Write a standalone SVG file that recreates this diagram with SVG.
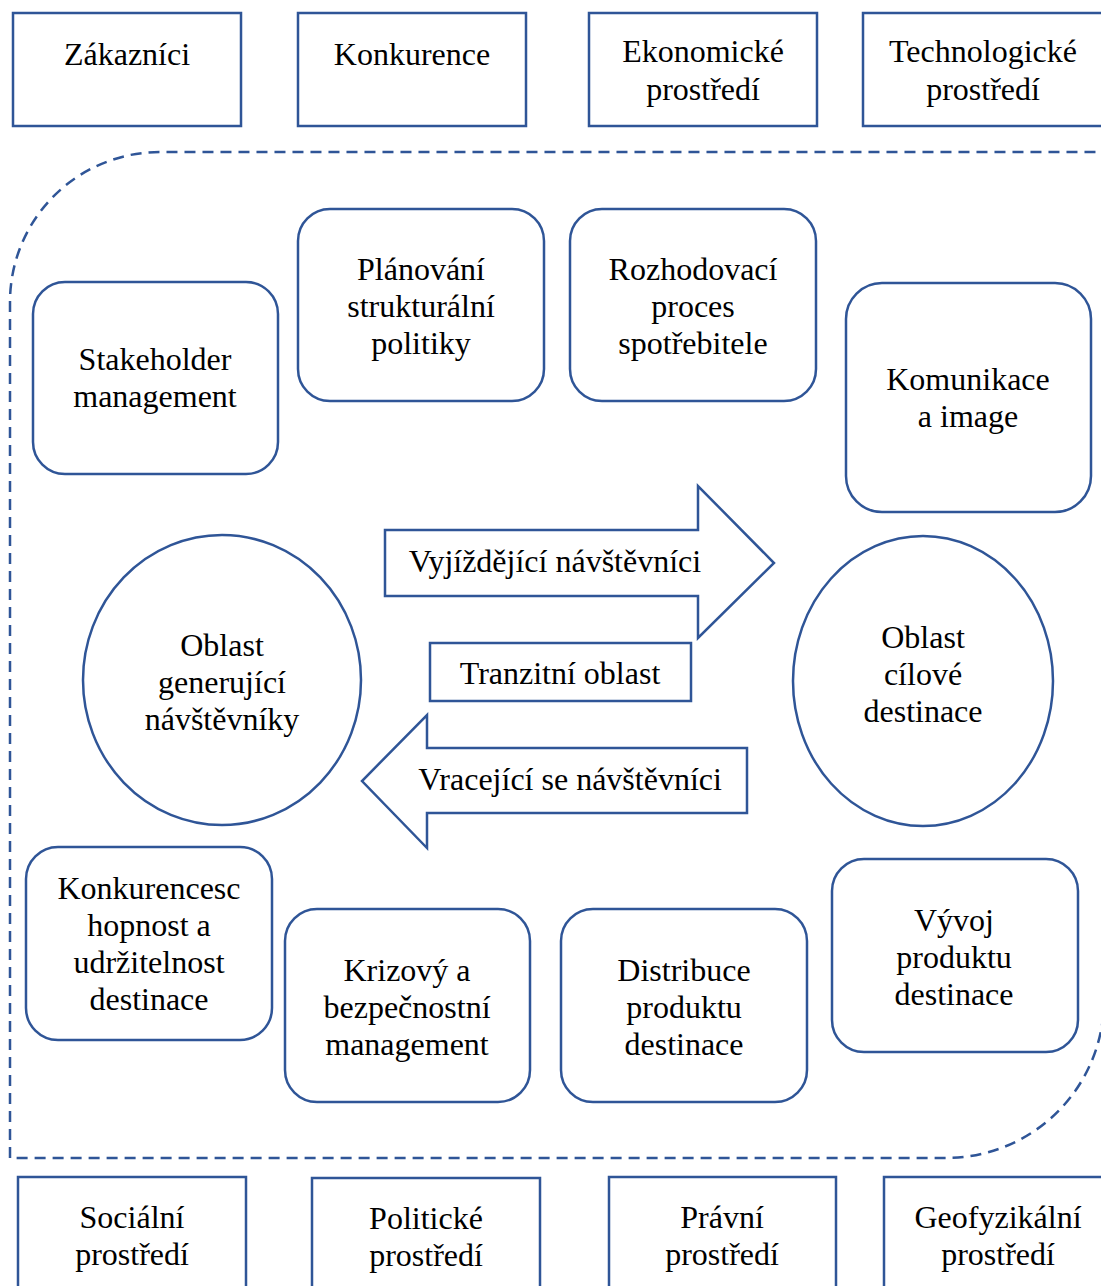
<svg xmlns="http://www.w3.org/2000/svg" width="1101" height="1286" viewBox="0 0 1101 1286">
<style>
.b{fill:#fff;stroke:#2F5597;stroke-width:2.5}
.t{font-family:"Liberation Serif","Times New Roman",serif;font-size:32px;fill:#000;text-anchor:middle}
.d{fill:none;stroke:#2F5597;stroke-width:2.5;stroke-dasharray:11 7}
</style>
<rect width="1101" height="1286" fill="#fff"/>
<g id="boundary">
<path class="d" d="M10 1158 L10 302 A150 150 0 0 1 160 152 L1104 152 L1104 1000 A158 158 0 0 1 946 1158 Z"/>
</g>
<g id="zakaznici"><rect class="b" x="13" y="13" width="228" height="113"/><text class="t" x="127" y="65">Zákazníci</text></g>
<g id="konkurence"><rect class="b" x="298" y="13" width="228" height="113"/><text class="t" x="412" y="65">Konkurence</text></g>
<g id="ekonomicke"><rect class="b" x="589" y="13" width="228" height="113"/><text class="t" x="703" y="62">Ekonomické</text><text class="t" x="703" y="100">prostředí</text></g>
<g id="technologicke"><rect class="b" x="863" y="13" width="240" height="113"/><text class="t" x="983" y="62">Technologické</text><text class="t" x="983" y="100">prostředí</text></g>

<g id="stakeholder"><rect class="b" x="33" y="282" width="245" height="192" rx="32"/><text class="t" x="155" y="370">Stakeholder</text><text class="t" x="155" y="407">management</text></g>
<g id="planovani"><rect class="b" x="298" y="209" width="246" height="192" rx="32"/><text class="t" x="421" y="280">Plánování</text><text class="t" x="421" y="317">strukturální</text><text class="t" x="421" y="354">politiky</text></g>
<g id="rozhodovaci"><rect class="b" x="570" y="209" width="246" height="192" rx="32"/><text class="t" x="693" y="280">Rozhodovací</text><text class="t" x="693" y="317">proces</text><text class="t" x="693" y="354">spotřebitele</text></g>
<g id="komunikace"><rect class="b" x="846" y="283" width="245" height="229" rx="36"/><text class="t" x="968" y="390">Komunikace</text><text class="t" x="968" y="427">a image</text></g>

<g id="oblast-gen"><ellipse class="b" cx="222" cy="680" rx="139" ry="145"/><text class="t" x="222" y="656">Oblast</text><text class="t" x="222" y="693">generující</text><text class="t" x="222" y="730">návštěvníky</text></g>
<g id="oblast-cil"><ellipse class="b" cx="923" cy="681" rx="130" ry="145"/><text class="t" x="923" y="648">Oblast</text><text class="t" x="923" y="685">cílové</text><text class="t" x="923" y="722">destinace</text></g>

<g id="connectors">
<g id="vyjizdejici"><polygon class="b" points="385,530 698,530 698,486 774,563 698,638 698,596 385,596"/><text class="t" x="555" y="572">Vyjíždějící návštěvníci</text></g>
<g id="vracejici"><polygon class="b" points="747,748 427,748 427,715 362,781 427,848 427,813 747,813"/><text class="t" x="570" y="790">Vracející se návštěvníci</text></g>
</g>
<g id="tranzitni"><rect class="b" x="430" y="643" width="261" height="58"/><text class="t" x="560" y="684">Tranzitní oblast</text></g>

<g id="konkurenceschopnost"><rect class="b" x="26" y="847" width="246" height="193" rx="32"/><text class="t" x="149" y="899">Konkurencesc</text><text class="t" x="149" y="936">hopnost a</text><text class="t" x="149" y="973">udržitelnost</text><text class="t" x="149" y="1010">destinace</text></g>
<g id="krizovy"><rect class="b" x="285" y="909" width="245" height="193" rx="32"/><text class="t" x="407" y="981">Krizový a</text><text class="t" x="407" y="1018">bezpečnostní</text><text class="t" x="407" y="1055">management</text></g>
<g id="distribuce"><rect class="b" x="561" y="909" width="246" height="193" rx="32"/><text class="t" x="684" y="981">Distribuce</text><text class="t" x="684" y="1018">produktu</text><text class="t" x="684" y="1055">destinace</text></g>
<g id="vyvoj"><rect class="b" x="832" y="859" width="246" height="193" rx="32"/><text class="t" x="954" y="931">Vývoj</text><text class="t" x="954" y="968">produktu</text><text class="t" x="954" y="1005">destinace</text></g>

<g id="socialni"><rect class="b" x="18" y="1177" width="228" height="130"/><text class="t" x="132" y="1228">Sociální</text><text class="t" x="132" y="1265">prostředí</text></g>
<g id="politicke"><rect class="b" x="312" y="1178" width="228" height="130"/><text class="t" x="426" y="1229">Politické</text><text class="t" x="426" y="1266">prostředí</text></g>
<g id="pravni"><rect class="b" x="609" y="1177" width="227" height="130"/><text class="t" x="722" y="1228">Právní</text><text class="t" x="722" y="1265">prostředí</text></g>
<g id="geofyzikalni"><rect class="b" x="884" y="1177" width="228" height="130"/><text class="t" x="998" y="1228">Geofyzikální</text><text class="t" x="998" y="1265">prostředí</text></g>
</svg>
